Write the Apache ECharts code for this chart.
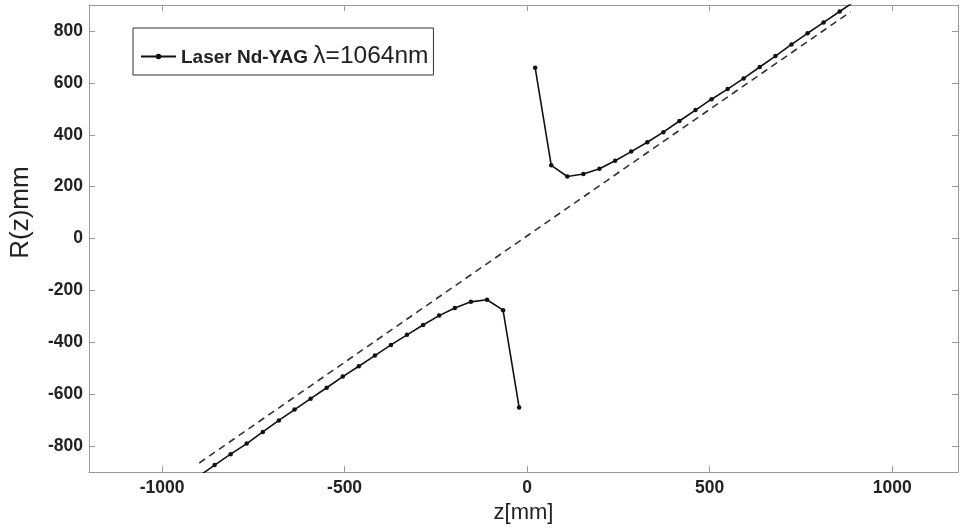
<!DOCTYPE html>
<html>
<head>
<meta charset="utf-8">
<script src="https://cdn.jsdelivr.net/npm/echarts@6/dist/echarts.min.js"></script>
<style>
html,body{margin:0;padding:0;background:#fff;}
#chart{width:961px;height:529px;}
</style>
</head>
<body>
<div id="chart"></div>
<script>
// z positions (mm) and radius of curvature R(z) (mm)
const zLower = [-900, -856, -812, -768, -724, -680, -637, -593, -549, -505, -461, -417, -373, -329, -285, -241, -198, -154, -110, -66, -22];
const rLower = [-917, -873, -831, -790, -745, -701, -659, -617, -575, -532, -492, -451, -410, -371, -333, -297, -268, -244, -236, -276, -651];
const zUpper = [22, 66, 110, 154, 198, 241, 285, 329, 373, 417, 461, 505, 549, 593, 637, 680, 724, 768, 812, 856, 900];
const rUpper = [658, 282, 239, 249, 269, 300, 335, 371, 410, 453, 495, 537, 576, 617, 661, 703, 748, 791, 833, 875, 917];
// dashed asymptote end points
const zAsym = [-898, 886];
const rAsym = [-865, 874];
// tick labels
const xTicks = [-1000, -500, 0, 500, 1000];
const yTicks = [-800, -600, -400, -200, 0, 200, 400, 600, 800];
const seriesName = 'Laser Nd-YAG λ=1064nm';

const pairs = (xs, ys) => xs.map((x, i) => [x, ys[i]]);

const axisGrey = '#9a9a9a';
const labelFont = {color: '#222', fontFamily: 'Liberation Sans, Arial, sans-serif', fontWeight: 'bold', fontSize: 17.5};

const chart = echarts.init(document.getElementById('chart'), null, {renderer: 'canvas'});
chart.setOption({
  backgroundColor: '#fff',
  animation: false,
  grid: {left: 89, right: 2, top: 5, bottom: 55, containLabel: false},
  legend: {
    data: [seriesName],
    left: 133, top: 28,
    orient: 'horizontal',
    backgroundColor: '#fff',
    borderColor: '#333', borderWidth: 1,
    padding: [16, 5, 6, 7],
    itemWidth: 35, itemHeight: 7, itemGap: 5,
    formatter: function (name) {
      const i = name.indexOf('λ');
      return '{a|' + name.slice(0, i) + '}{b|' + name.slice(i) + '}';
    },
    textStyle: {
      rich: {
        a: {fontFamily: 'Liberation Sans, Arial, sans-serif', fontWeight: 'bold', fontSize: 19, color: '#222', lineHeight: 29, padding: [3, 0, 0, 0]},
        b: {fontFamily: 'Liberation Sans, Arial, sans-serif', fontSize: 24.5, color: '#222', lineHeight: 29}
      }
    }
  },
  xAxis: [{
    type: 'value', min: -1200, max: 1180, splitNumber: 5, position: 'bottom',
    name: 'z[mm]', nameLocation: 'middle', nameGap: 25,
    nameTextStyle: {fontFamily: 'Liberation Sans, Arial, sans-serif', fontSize: 22, color: '#222'},
    axisLine: {show: true, onZero: false, lineStyle: {color: axisGrey, width: 1}},
    axisTick: {show: true, inside: true, length: 6, lineStyle: {color: axisGrey}},
    axisLabel: Object.assign({margin: 7, formatter: v => xTicks.includes(v) ? String(v) : ''}, labelFont),
    splitLine: {show: false}
  }, {
    type: 'value', min: -1200, max: 1180, splitNumber: 5, position: 'top',
    axisLine: {show: true, onZero: false, lineStyle: {color: axisGrey, width: 1}},
    axisTick: {show: true, inside: true, length: 6, lineStyle: {color: axisGrey}},
    axisLabel: {show: false}, splitLine: {show: false}
  }],
  yAxis: [{
    type: 'value', min: -900, max: 900, splitNumber: 9, position: 'left',
    name: 'R(z)mm', nameLocation: 'middle', nameGap: 55, nameRotate: 90,
    nameTextStyle: {fontFamily: 'Liberation Sans, Arial, sans-serif', fontSize: 26, color: '#222', padding: [0, 0, 0, 52]},
    axisLine: {show: true, onZero: false, lineStyle: {color: axisGrey, width: 1}},
    axisTick: {show: true, inside: true, length: 6, lineStyle: {color: axisGrey}},
    axisLabel: Object.assign({margin: 6, formatter: v => yTicks.includes(v) ? String(v) : ''}, labelFont),
    splitLine: {show: false}
  }, {
    type: 'value', min: -900, max: 900, splitNumber: 9, position: 'right',
    axisLine: {show: true, onZero: false, lineStyle: {color: axisGrey, width: 1}},
    axisTick: {show: true, inside: true, length: 6, lineStyle: {color: axisGrey}},
    axisLabel: {show: false}, splitLine: {show: false}
  }],
  series: [{
    name: 'asymptote', type: 'line', data: pairs(zAsym, rAsym),
    symbol: 'none', clip: true,
    lineStyle: {color: '#333', width: 1.6, type: [7, 5]}
  }, {
    name: seriesName, type: 'line', data: pairs(zLower, rLower),
    symbol: 'circle', symbolSize: 4.5, showSymbol: true, clip: true,
    itemStyle: {color: '#111'},
    lineStyle: {color: '#111', width: 1.6}
  }, {
    name: seriesName, type: 'line', data: pairs(zUpper, rUpper),
    symbol: 'circle', symbolSize: 4.5, showSymbol: true, clip: true,
    itemStyle: {color: '#111'},
    lineStyle: {color: '#111', width: 1.6}
  }]
});
</script>
</body>
</html>
